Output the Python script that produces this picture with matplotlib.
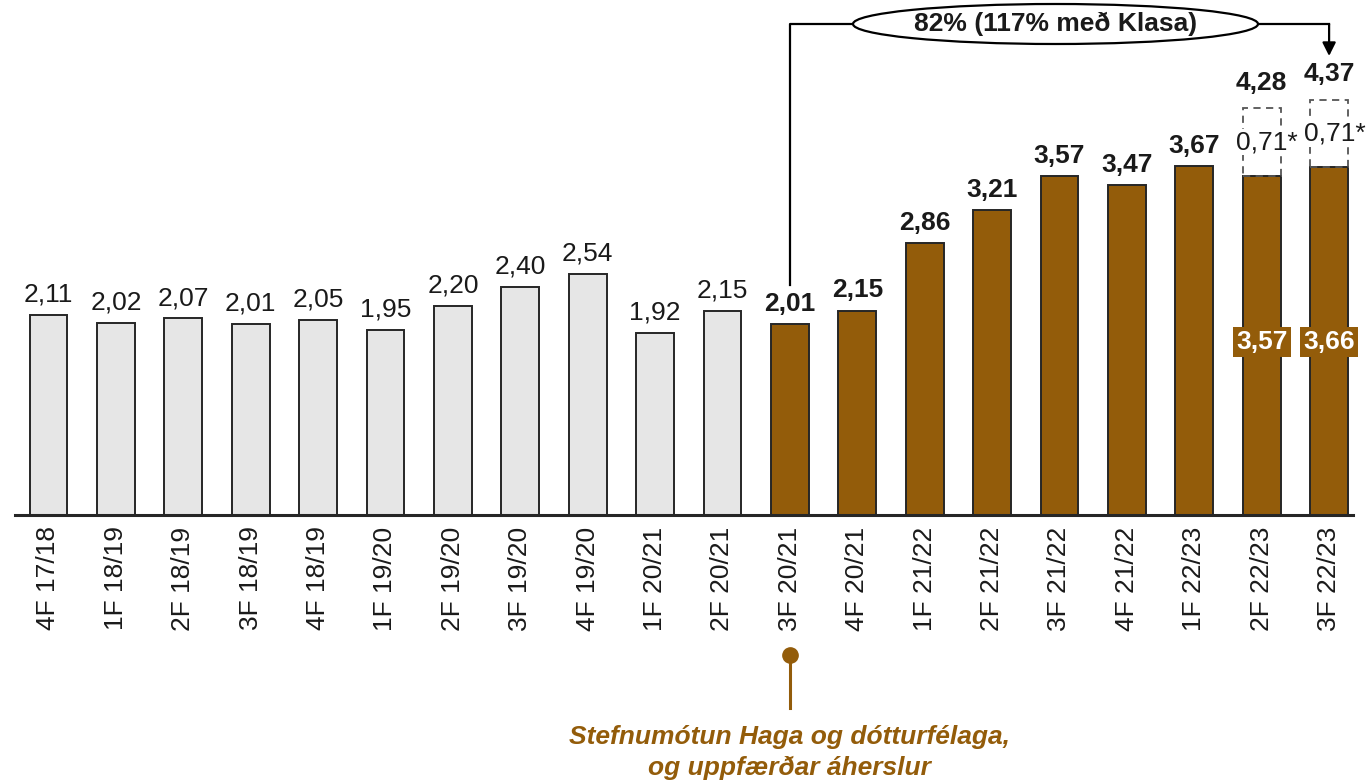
import numpy as np
import matplotlib.pyplot as plt
from matplotlib.patches import Ellipse

plt.rcParams['font.family'] = ['Liberation Sans', 'DejaVu Sans']

# gögn
labels = ["4F 17/18", "1F 18/19", "2F 18/19", "3F 18/19", "4F 18/19", "1F 19/20",
          "2F 19/20", "3F 19/20", "4F 19/20", "1F 20/21", "2F 20/21", "3F 20/21",
          "4F 20/21", "1F 21/22", "2F 21/22", "3F 21/22", "4F 21/22", "1F 22/23",
          "2F 22/23", "3F 22/23"]
values = [2.11, 2.02, 2.07, 2.01, 2.05, 1.95, 2.20, 2.40, 2.54, 1.92, 2.15,
          2.01, 2.15, 2.86, 3.21, 3.57, 3.47, 3.67, 3.57, 3.66]
n_gray = 11                       # fyrstu 11 eru gráar
extra = [0.71, 0.71]              # viðbót á síðustu tveimur (*)
totals = [4.28, 4.37]

BROWN = "#935C0A"
GRAY = "#E6E6E6"
EDGE = "#262626"
FS = 19

def fmt(v):
    return f"{v:.2f}".replace(".", ",")

def px(p):                        # pixel x -> súlu-hnit
    return (p - 48.5) / 67.4

fig = plt.figure(figsize=(13.66, 7.83), dpi=100)
ax = fig.add_axes([0, 0, 1, 1])

# pixel -> gagnahnit: x = 48.5 + 67.4*i, y = 515 - 95*v
ax.set_xlim(px(0), px(1366))
ax.set_ylim(-(783-515)/95, 515/95)
ax.axis("off")

x = np.arange(len(values))
colors = [GRAY]*n_gray + [BROWN]*(len(values)-n_gray)
ax.bar(x, values, width=0.56, color=colors, edgecolor=EDGE, linewidth=1.4, zorder=2)
ax.plot([-0.5, 19.35], [0, 0], color=EDGE, lw=2.2, zorder=3)

# gildi ofan á súlum
for i, v in enumerate(values):
    if i >= 18:
        continue
    ax.annotate(fmt(v), (i, v), xytext=(0, 6), textcoords="offset points",
                ha="center", va="bottom", fontsize=FS,
                fontweight="bold" if i >= n_gray else "normal", color="#1a1a1a")

# strikaðir kassar fyrir viðbót
for k, i in enumerate([18, 19]):
    ax.bar(i, extra[k], bottom=values[i], width=0.56, fill=False,
           edgecolor="#555555", linestyle=(0, (4, 3)), linewidth=1.3, zorder=2)
    ax.text(i + 0.08, values[i] + extra[k]*0.5, fmt(extra[k]) + "*", ha="center",
            va="center", fontsize=FS, color="#1a1a1a",
            bbox=dict(boxstyle="square,pad=0.05", fc="white", ec="none"), zorder=3)
    ax.annotate(fmt(totals[k]), (i, totals[k]), xytext=(0, 10), textcoords="offset points",
                ha="center", va="bottom", fontsize=FS, fontweight="bold", color="#1a1a1a")
    ax.text(i, 1.82, fmt(values[i]), ha="center", va="center", fontsize=FS,
            fontweight="bold", color="white",
            bbox=dict(boxstyle="square,pad=0.12", fc=BROWN, ec="none"), zorder=4)

# x-ás merki
for i, lab in enumerate(labels):
    ax.text(i, -0.12, lab, rotation=90, ha="center", va="top", fontsize=FS, color="#1a1a1a")

# tenging ofan við
y_top = (515 - 24) / 95
ax.plot([11, 11, px(853)], [2.42, y_top, y_top], color="black", lw=1.6)
ax.plot([px(1258), 19], [y_top, y_top], color="black", lw=1.6)
ax.annotate("", xy=(19, (515-56)/95), xytext=(19, y_top),
            arrowprops=dict(arrowstyle="-|>,head_width=0.4,head_length=0.8",
                            color="black", lw=1.6, shrinkA=0, shrinkB=0))
ax.add_patch(Ellipse((px(1055.5), y_top), 405/67.4, 40/95,
                     fc="white", ec="black", lw=1.6, zorder=5))
ax.text(px(1055.5), y_top, "82% (117% með Klasa)", ha="center", va="center",
        fontsize=FS, fontweight="bold", color="#1a1a1a", zorder=6)

# athugasemd neðst
ax.plot([11, 11], [-1.474, -2.03], color=BROWN, lw=2.2)
ax.plot(11, -1.474, "o", color=BROWN, markersize=11)
ax.text(11, -2.50, "Stefnumótun Haga og dótturfélaga,\nog uppfærðar áherslur",
        ha="center", va="center", fontsize=FS, fontweight="bold", style="italic",
        color=BROWN, linespacing=1.35)

fig.savefig("out.png", dpi=100)
